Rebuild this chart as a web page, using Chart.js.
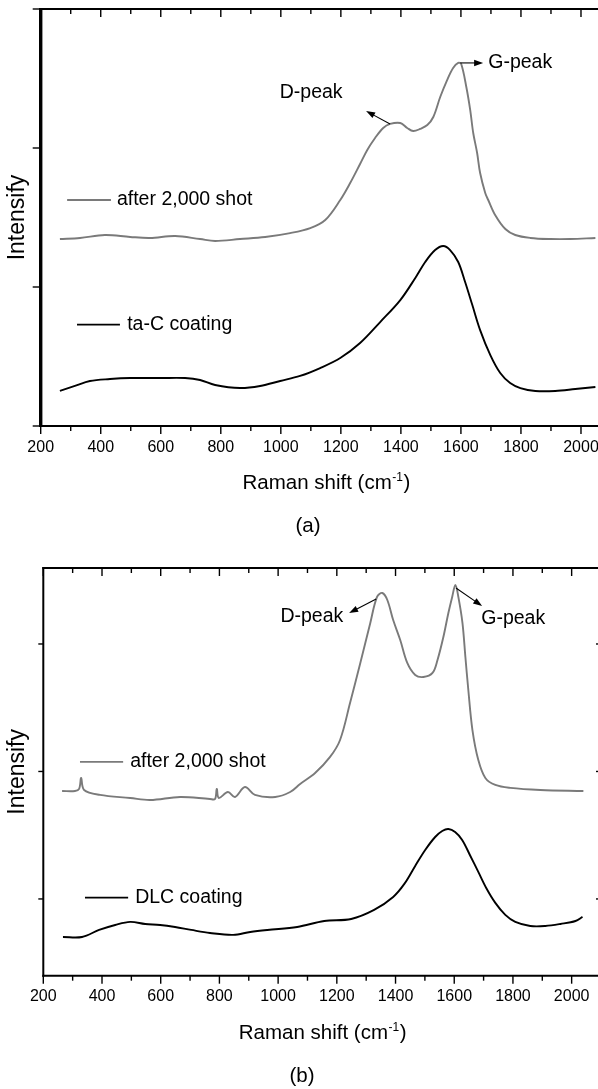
<!DOCTYPE html>
<html>
<head>
<meta charset="utf-8">
<script src="https://cdn.jsdelivr.net/npm/chart.js@4.4.0/dist/chart.umd.min.js"></script>
<style>
html, body { margin: 0; padding: 0; background: #fff; overflow: hidden; width: 598px; height: 1089px; }
.panel { position: absolute; left: 0; width: 598px; overflow: hidden; }
#boxA { top: 0; height: 548px; }
#boxB { top: 548px; height: 541px; }
</style>
</head>
<body>
<div class="panel" id="boxA"><canvas id="chartA" width="611" height="548"></canvas></div>
<div class="panel" id="boxB"><canvas id="chartB" width="601" height="541"></canvas></div>
<script>
// axis ticks
const ticksMajor = [200, 400, 600, 800, 1000, 1200, 1400, 1600, 1800, 2000];
const ticksMinor = [300, 500, 700, 900, 1100, 1300, 1500, 1700, 1900];
const yTicksA = [0, 1, 2, 3];
const yTicksB = [1, 2, 3];

// (a) ta-C, after 2,000 shot
const ramanA_shot = [264, 331, 414, 498, 564, 648, 731, 781, 864, 948, 1031, 1098, 1148, 1198, 1231, 1264, 1288, 1314, 1341, 1364,
  1398, 1421, 1441, 1464, 1488, 1508, 1531, 1554, 1574, 1591, 1601, 1618, 1631, 1641, 1654, 1664, 1681, 1691, 1714, 1748,
  1781, 1831, 1898, 1964, 2048];
const intA_shot = [1.345, 1.353, 1.374, 1.360, 1.353, 1.367, 1.345, 1.331, 1.345, 1.360, 1.388, 1.424, 1.482, 1.626, 1.748, 1.885, 1.986, 2.072, 2.144, 2.173,
  2.180, 2.144, 2.122, 2.137, 2.165, 2.223, 2.367, 2.489, 2.576, 2.612, 2.604, 2.439, 2.273, 2.108, 1.964, 1.820, 1.676, 1.626, 1.518, 1.417,
  1.374, 1.353, 1.345, 1.345, 1.353];

// (a) ta-C coating
const ramanA_coat = [264, 314, 364, 431, 498, 598, 681, 731, 781, 864, 931, 998, 1064, 1131, 1198, 1264, 1331, 1398, 1448, 1481,
  1514, 1541, 1564, 1591, 1614, 1638, 1664, 1698, 1731, 1764, 1798, 1848, 1914, 1981, 2048];
const intA_coat = [0.252, 0.288, 0.324, 0.338, 0.345, 0.345, 0.345, 0.331, 0.295, 0.273, 0.288, 0.324, 0.360, 0.417, 0.489, 0.597, 0.748, 0.906, 1.065, 1.180,
  1.266, 1.295, 1.266, 1.180, 1.036, 0.870, 0.690, 0.510, 0.381, 0.309, 0.273, 0.252, 0.252, 0.266, 0.281];

// (b) DLC, after 2,000 shot
const ramanB_shot = [264, 308, 322, 329, 339, 393, 496, 564, 666, 768, 785, 791, 798, 829, 853, 887, 921, 990, 1041, 1075,
  1126, 1177, 1211, 1245, 1280, 1314, 1337, 1355, 1372, 1392, 1416, 1440, 1467, 1495, 1526, 1543, 1563, 1580, 1593, 1604,
  1614, 1628, 1638, 1648, 1662, 1682, 1706, 1740, 1791, 1893, 2040];
const intB_shot = [1.847, 1.847, 1.863, 1.949, 1.855, 1.816, 1.792, 1.776, 1.800, 1.784, 1.784, 1.863, 1.792, 1.839, 1.800, 1.878, 1.816, 1.800, 1.839, 1.902,
  1.988, 2.114, 2.247, 2.537, 2.851, 3.165, 3.369, 3.400, 3.345, 3.188, 3.031, 2.851, 2.757, 2.741, 2.773, 2.875, 3.055, 3.243, 3.369, 3.463,
  3.369, 3.165, 2.898, 2.639, 2.325, 2.090, 1.949, 1.894, 1.871, 1.855, 1.847];

// (b) DLC coating
const ramanB_coat = [267, 332, 390, 445, 496, 547, 598, 649, 704, 768, 847, 905, 963, 1065, 1157, 1249, 1327, 1392, 1430, 1467,
  1501, 1535, 1559, 1580, 1603, 1627, 1655, 1682, 1709, 1740, 1774, 1808, 1859, 1910, 1962, 2013, 2037];
const intB_coat = [0.702, 0.702, 0.757, 0.796, 0.820, 0.804, 0.796, 0.780, 0.757, 0.733, 0.718, 0.741, 0.757, 0.780, 0.827, 0.843, 0.914, 1.016, 1.118, 1.259,
  1.384, 1.486, 1.533, 1.549, 1.525, 1.463, 1.337, 1.212, 1.086, 0.969, 0.875, 0.820, 0.788, 0.788, 0.804, 0.827, 0.859];

const FONT = '"Liberation Sans", Arial, sans-serif';
const GRAY = 'rgb(122,122,122)';

function pts(xs, ys) {
  return xs.map((v, i) => ({x: v, y: ys[i]}));
}

function line(ctx, x1, y1, x2, y2) {
  ctx.beginPath();
  ctx.moveTo(x1, y1);
  ctx.lineTo(x2, y2);
  ctx.stroke();
}

function arrow(ctx, x1, y1, x2, y2) {
  const a = Math.atan2(y2 - y1, x2 - x1), c = Math.cos(a), s = Math.sin(a);
  ctx.lineWidth = 1.1;
  line(ctx, x1, y1, x2 - 6 * c, y2 - 6 * s);
  ctx.beginPath();
  ctx.moveTo(x2, y2);
  ctx.lineTo(x2 - 9 * c + 3.2 * s, y2 - 9 * s - 3.2 * c);
  ctx.lineTo(x2 - 9 * c - 3.2 * s, y2 - 9 * s + 3.2 * c);
  ctx.closePath();
  ctx.fill();
}

// frame, ticks, titles, legend and peak labels
const framePlugin = {
  id: 'frame',
  afterDraw(chart, args, o) {
    const {ctx, chartArea: a, scales: {x, y}} = chart;
    ctx.save();
    ctx.strokeStyle = '#000';
    ctx.fillStyle = '#000';

    ctx.lineWidth = 1.4;
    ticksMajor.forEach(v => {
      const px = x.getPixelForValue(v);
      line(ctx, px, a.bottom, px, a.bottom + 8);
      line(ctx, px, a.top, px, a.top + 8);
    });
    ticksMinor.forEach(v => {
      const px = x.getPixelForValue(v);
      line(ctx, px, a.bottom, px, a.bottom + 5);
      line(ctx, px, a.top, px, a.top + 5);
    });
    o.yTicks.forEach(v => {
      const py = y.getPixelForValue(v);
      line(ctx, a.left - o.yTickLen, py, a.left, py);
      line(ctx, a.right - o.yTickLen, py, a.right, py);
    });

    ctx.lineWidth = 2;
    line(ctx, a.left - 1, a.top, a.right, a.top);
    line(ctx, a.left - 1, a.bottom, a.right, a.bottom);
    line(ctx, a.right, a.top, a.right, a.bottom);
    ctx.lineWidth = o.leftWidth;
    line(ctx, a.left, a.top - 1, a.left, a.bottom + 1);

    // x title with superscript
    const big = '20.5px ' + FONT, small = '12px ' + FONT;
    ctx.font = big;
    const w1 = ctx.measureText('Raman shift (cm').width;
    const w3 = ctx.measureText(')').width;
    ctx.font = small;
    const w2 = ctx.measureText('-1').width;
    const x0 = (a.left + a.right) / 2 - (w1 + w2 + w3) / 2;
    const by = a.bottom + 63;
    ctx.textAlign = 'left';
    ctx.textBaseline = 'alphabetic';
    ctx.font = big;
    ctx.fillText('Raman shift (cm', x0, by);
    ctx.font = small;
    ctx.fillText('-1', x0 + w1 + 0.5, by - 8);
    ctx.font = big;
    ctx.fillText(')', x0 + w1 + w2 + 1, by);

    // panel label
    ctx.textAlign = 'center';
    ctx.fillText(o.panel, o.panelX, a.bottom + 106);

    // y title
    ctx.save();
    ctx.translate(18, (a.top + a.bottom) / 2);
    ctx.rotate(-Math.PI / 2);
    ctx.font = '23px ' + FONT;
    ctx.textBaseline = 'middle';
    ctx.fillText('Intensify', 0, 0);
    ctx.restore();

    // legend entries
    ctx.font = '19.5px ' + FONT;
    ctx.textBaseline = 'middle';
    ctx.textAlign = 'left';
    o.legend.forEach(l => {
      const ds = chart.data.datasets[l.ds];
      const py = y.getPixelForValue(l.y);
      ctx.strokeStyle = ds.borderColor;
      ctx.lineWidth = 1.8;
      line(ctx, x.getPixelForValue(l.x1), py, x.getPixelForValue(l.x2), py);
      ctx.fillText(ds.label, x.getPixelForValue(l.tx), py);
    });

    // peak labels and arrows
    ctx.strokeStyle = '#000';
    o.labels.forEach(l => {
      ctx.textAlign = l.align;
      ctx.fillText(l.t, x.getPixelForValue(l.x), y.getPixelForValue(l.y));
    });
    o.arrows.forEach(r => {
      arrow(ctx, x.getPixelForValue(r[0]), y.getPixelForValue(r[1]), x.getPixelForValue(r[2]), y.getPixelForValue(r[3]));
    });
    ctx.restore();
  }
};

function makePanel(id, sets, p) {
  return new Chart(id, {
    type: 'line',
    data: {
      datasets: sets.map(s => ({
        label: s.label,
        data: pts(s.xs, s.ys),
        borderColor: s.color,
        borderWidth: 1.9,
        pointRadius: 0,
        fill: false,
        tension: 0.35
      }))
    },
    options: {
      responsive: false,
      animation: false,
      devicePixelRatio: 1,
      layout: {padding: {top: p.top, left: 0, right: 0, bottom: 0}},
      scales: {
        x: {
          type: 'linear',
          min: 200,
          max: 2100,
          grid: {display: false, drawTicks: false},
          border: {display: false},
          afterBuildTicks: s => { s.ticks = ticksMajor.map(v => ({value: v})); },
          afterFit: s => { s.height = p.xHeight; },
          ticks: {
            padding: p.labelPad,
            color: '#000',
            maxRotation: 0,
            autoSkip: false,
            font: {family: FONT, size: 16},
            callback: v => String(v)
          }
        },
        y: {
          min: p.yMin,
          max: p.yMax,
          grid: {display: false, drawTicks: false},
          border: {display: false},
          ticks: {display: false},
          afterFit: s => { s.width = p.left; }
        }
      },
      plugins: {
        legend: {display: false},
        tooltip: {enabled: false},
        frame: p.frame
      }
    },
    plugins: [framePlugin]
  });
}

makePanel('chartA', [
  {label: 'after 2,000 shot', xs: ramanA_shot, ys: intA_shot, color: GRAY},
  {label: 'ta-C coating', xs: ramanA_coat, ys: intA_coat, color: '#000'}
], {
  top: 9, left: 40.7, xHeight: 122, labelPad: 12, yMin: 0, yMax: 3,
  frame: {
    yTicks: yTicksA, yTickLen: 8, leftWidth: 3.4, panel: '(a)', panelX: 308,
    legend: [
      {ds: 0, x1: 288, x2: 434, tx: 454, y: 1.626},
      {ds: 1, x1: 321, x2: 464, tx: 488, y: 0.73}
    ],
    labels: [
      {t: 'D-peak', x: 1101, y: 2.396, align: 'center'},
      {t: 'G-peak', x: 1691, y: 2.612, align: 'left'}
    ],
    arrows: [[1364, 2.173, 1284, 2.266], [1598, 2.612, 1674, 2.612]]
  }
});

makePanel('chartB', [
  {label: 'after 2,000 shot', xs: ramanB_shot, ys: intB_shot, color: GRAY},
  {label: 'DLC coating', xs: ramanB_coat, ys: intB_coat, color: '#000'}
], {
  top: 20, left: 43.3, xHeight: 113.3, labelPad: 11, yMin: 0.398, yMax: 3.596,
  frame: {
    yTicks: yTicksB, yTickLen: 5, leftWidth: 2, panel: '(b)', panelX: 302,
    legend: [
      {ds: 0, x1: 325, x2: 472, tx: 496, y: 2.075},
      {ds: 1, x1: 342, x2: 489, tx: 513, y: 1.01}
    ],
    labels: [
      {t: 'D-peak', x: 1222, y: 3.212, align: 'right'},
      {t: 'G-peak', x: 1692, y: 3.196, align: 'left'}
    ],
    arrows: [[1334, 3.353, 1242, 3.243], [1606, 3.439, 1695, 3.298]]
  }
});
</script>
</body>
</html>
